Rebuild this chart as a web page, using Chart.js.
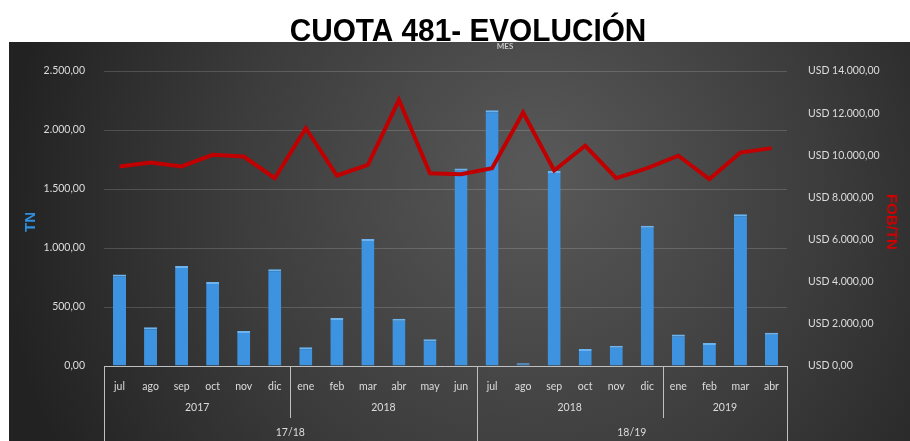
<!DOCTYPE html>
<html>
<head>
<meta charset="utf-8">
<script src="https://cdn.jsdelivr.net/npm/chart.js@4.4.1/dist/chart.umd.min.js"></script>
<style>
  html, body { margin: 0; padding: 0; background: #fff; }
  #wrap { width: 910px; height: 441px; }
</style>
</head>
<body>
<div id="wrap"><canvas id="cuota" width="910" height="441"></canvas></div>
<script>
var months = ["jul", "ago", "sep", "oct", "nov", "dic", "ene", "feb", "mar", "abr", "may", "jun",
  "jul", "ago", "sep", "oct", "nov", "dic", "ene", "feb", "mar", "abr"];
var yearOf = ["2017", "2017", "2017", "2017", "2017", "2017", "2018", "2018", "2018", "2018", "2018", "2018",
  "2018", "2018", "2018", "2018", "2018", "2018", "2019", "2019", "2019", "2019"];
var seasonOf = ["17/18", "17/18", "17/18", "17/18", "17/18", "17/18", "17/18", "17/18", "17/18", "17/18", "17/18", "17/18",
  "18/19", "18/19", "18/19", "18/19", "18/19", "18/19", "18/19", "18/19", "18/19", "18/19"];
// toneladas
var tn = [775, 328, 847, 711, 296, 819, 158, 406, 1076, 401, 226, 1674,
  2168, 23, 1652, 144, 172, 1189, 268, 195, 1287, 282];
// USD FOB por tonelada
var fobTn = [9470, 9660, 9470, 10020, 9940, 8910, 11290, 9040, 9550, 12630, 9150, 9100,
  9390, 12030, 9280, 10450, 8910, 9390, 9980, 8870, 10130, 10340];
var tnTicks = [0, 500, 1000, 1500, 2000, 2500];
var usdTicks = [0, 2000, 4000, 6000, 8000, 10000, 12000, 14000];

function fmt(v) {
  var s = Math.round(v).toString().replace(/\B(?=(\d{3})+(?!\d))/g, ".");
  return s + ",00";
}

// groups of consecutive equal keys
function runs(labels, keys) {
  var out = [];
  labels.forEach(function (v, i) {
    var last = out[out.length - 1];
    if (!last || last.key !== keys[i]) out.push({ label: v, key: keys[i], from: i, to: i });
    else last.to = i;
  });
  return out;
}

var txt = "#dcdcdc";
var tickFont = { family: "Lato, 'Open Sans', sans-serif", size: 10.5 };

var decor = {
  id: "decor",
  beforeDraw: function (chart) {
    var c = chart.ctx;
    c.save();
    c.fillStyle = "#ffffff";
    c.fillRect(0, 0, chart.width, chart.height);
    var g = c.createRadialGradient(540, 170, 20, 520, 220, 520);
    g.addColorStop(0, "#575757");
    g.addColorStop(0.55, "#3c3c3c");
    g.addColorStop(1, "#222222");
    c.fillStyle = g;
    c.fillRect(9, 42, chart.width - 9, chart.height - 42);

    c.save();
    c.fillStyle = "#000";
    c.textAlign = "center";
    c.textBaseline = "alphabetic";
    c.font = "bold 31px 'Liberation Sans', Arial, sans-serif";
    c.translate(468, 41);
    c.scale(0.96, 1);
    c.fillText("CUOTA 481- EVOLUCIÓN", 0, 0);
    c.restore();

    c.fillStyle = "#c8c8c8";
    c.font = "bold 8px Lato, sans-serif";
    c.textAlign = "center";
    c.textBaseline = "middle";
    c.fillText("MES", 505, 46);

    c.font = "bold 15px 'Liberation Sans', Arial, sans-serif";
    c.fillStyle = "#2e8fe0";
    c.translate(31, 222);
    c.rotate(-Math.PI / 2);
    c.fillText("TN", 0, 0);
    c.restore();

    c.save();
    c.font = "bold 15px 'Liberation Sans', Arial, sans-serif";
    c.fillStyle = "#d00000";
    c.textAlign = "center";
    c.textBaseline = "middle";
    c.translate(891, 222);
    c.rotate(Math.PI / 2);
    c.fillText("FOB/TN", 0, 0);
    c.restore();
  },
  afterDraw: function (chart) {
    var c = chart.ctx, x = chart.scales.x, area = chart.chartArea;
    var step = x.getPixelForValue(1) - x.getPixelForValue(0);
    function edge(i) { return x.getPixelForValue(i) - step / 2; }
    function vline(p, y2) {
      c.beginPath();
      c.moveTo(Math.round(p) + 0.5, area.bottom);
      c.lineTo(Math.round(p) + 0.5, y2);
      c.stroke();
    }
    c.save();
    c.strokeStyle = "#bfbfbf";
    c.lineWidth = 1;
    c.fillStyle = txt;
    c.font = "10.5px Lato, 'Open Sans', sans-serif";
    c.textAlign = "center";
    c.textBaseline = "middle";
    var yk = yearOf.map(function (y, i) { return seasonOf[i] + "|" + y; });
    runs(yearOf, yk).forEach(function (r) {
      var a = edge(r.from), b = edge(r.to + 1);
      c.fillText(r.label, (a + b) / 2, 408);
      vline(b, 418);
    });
    runs(seasonOf, seasonOf).forEach(function (r) {
      var a = edge(r.from), b = edge(r.to + 1);
      c.fillText(r.label, (a + b) / 2, 433);
      vline(a, chart.height);
      vline(b, chart.height);
    });
    c.beginPath();
    c.moveTo(area.left, Math.round(area.bottom) + 0.5);
    c.lineTo(area.right, Math.round(area.bottom) + 0.5);
    c.stroke();
    c.restore();
  }
};

new Chart(document.getElementById("cuota").getContext("2d"), {
  type: "bar",
  data: {
    labels: months,
    datasets: [
      {
        type: "line",
        label: "FOB/TN",
        data: fobTn,
        yAxisID: "y2",
        borderColor: "#c00000",
        borderWidth: 4,
        pointRadius: 0,
        tension: 0,
        order: 0
      },
      {
        label: "TN",
        data: tn,
        yAxisID: "y",
        backgroundColor: "#3d93e0",
        borderColor: "#6cb4f0",
        borderWidth: { top: 2, left: 0, right: 0, bottom: 0 },
        barPercentage: 0.42,
        categoryPercentage: 1,
        order: 1
      }
    ]
  },
  options: {
    responsive: false,
    animation: false,
    layout: { padding: { top: 71, left: 0, right: 0, bottom: 0 } },
    plugins: { legend: { display: false }, tooltip: { enabled: false } },
    scales: {
      x: {
        grid: { display: false },
        border: { display: false },
        ticks: { color: txt, font: tickFont, padding: 6, maxRotation: 0, autoSkip: false },
        afterFit: function (s) { s.height = 75; }
      },
      y: {
        position: "left",
        min: 0,
        max: 2500,
        afterBuildTicks: function (s) { s.ticks = tnTicks.map(function (v) { return { value: v }; }); },
        grid: { color: "rgba(255,255,255,0.16)", tickLength: 0 },
        border: { display: false },
        ticks: { color: txt, font: tickFont, padding: 19, callback: function (v) { return fmt(v); } },
        afterFit: function (s) { s.width = 104; }
      },
      y2: {
        position: "right",
        min: 0,
        max: 14000,
        afterBuildTicks: function (s) { s.ticks = usdTicks.map(function (v) { return { value: v }; }); },
        grid: { display: false },
        border: { display: false },
        ticks: { color: txt, font: tickFont, padding: 13, callback: function (v) { return "USD " + fmt(v); } },
        afterFit: function (s) { s.width = 123; }
      }
    }
  },
  plugins: [decor]
});
</script>
</body>
</html>
